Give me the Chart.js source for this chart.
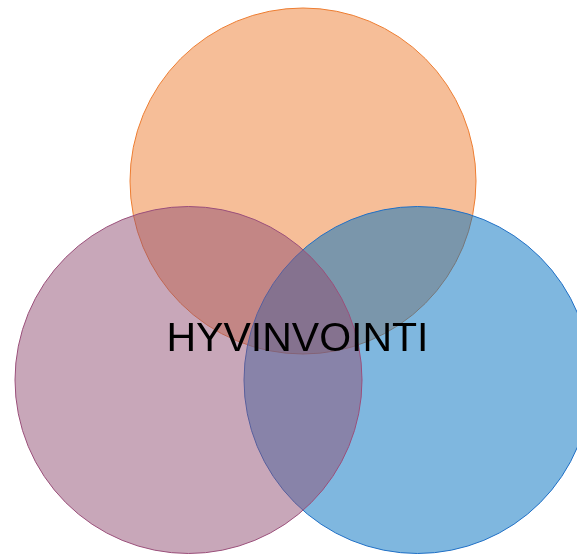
<!DOCTYPE html>
<html>
<head>
<meta charset="utf-8">
<script src="https://cdn.jsdelivr.net/npm/chart.js@4/dist/chart.umd.min.js"></script>
<style>
    html, body { margin: 0; padding: 0; background: #fff; }
    #wrap { width: 577px; height: 555px; position: relative; }
</style>
</head>
<body>
<div id="wrap"><canvas id="venn"></canvas></div>
<script>
// circles of the diagram, in px-like data units (y grows downwards)
var circleNames = ['Orange', 'Blue', 'Purple'];
var circleX = [303, 417.5, 188.5];
var circleY = [181, 380, 380];
var circleR = [173, 173.5, 173.5];
var centerLabel = 'HYVINVOINTI';

var fills = ['rgba(237,125,49,0.5)', 'rgba(0,112,192,0.5)', 'rgba(145,79,115,0.5)'];
var borders = ['#ED7D31', '#1F6FC5', '#9A4F7A'];

// chart.js draws dataset 0 on top, so give later circles a lower order
var datasets = circleNames.map(function (name, i) {
    return {
        label: name,
        data: [{ x: circleX[i], y: circleY[i], r: circleR[i] }],
        backgroundColor: fills[i],
        borderColor: borders[i],
        borderWidth: 1,
        order: circleNames.length - i,
        clip: false
    };
});

var centerText = {
    id: 'centerText',
    afterDatasetsDraw: function (chart) {
        var ctx = chart.ctx;
        ctx.save();
        ctx.font = '41px "Liberation Sans", Arial, sans-serif';
        ctx.fillStyle = '#000';
        ctx.textAlign = 'center';
        ctx.textBaseline = 'alphabetic';
        ctx.fillText(centerLabel, chart.scales.x.getPixelForValue(297.5), chart.scales.y.getPixelForValue(351));
        ctx.restore();
    }
};

new Chart(document.getElementById('venn').getContext('2d'), {
    type: 'bubble',
    data: { datasets: datasets },
    options: {
        responsive: true,
        maintainAspectRatio: false,
        animation: false,
        // no extra room for the big bubbles, data units = pixels
        layout: { padding: 0, autoPadding: false },
        scales: {
            x: { type: 'linear', min: 0, max: 577, display: false },
            y: { type: 'linear', min: 0, max: 555, reverse: true, display: false }
        },
        plugins: {
            legend: { display: false },
            tooltip: { enabled: false }
        }
    },
    plugins: [centerText]
});
</script>
</body>
</html>
